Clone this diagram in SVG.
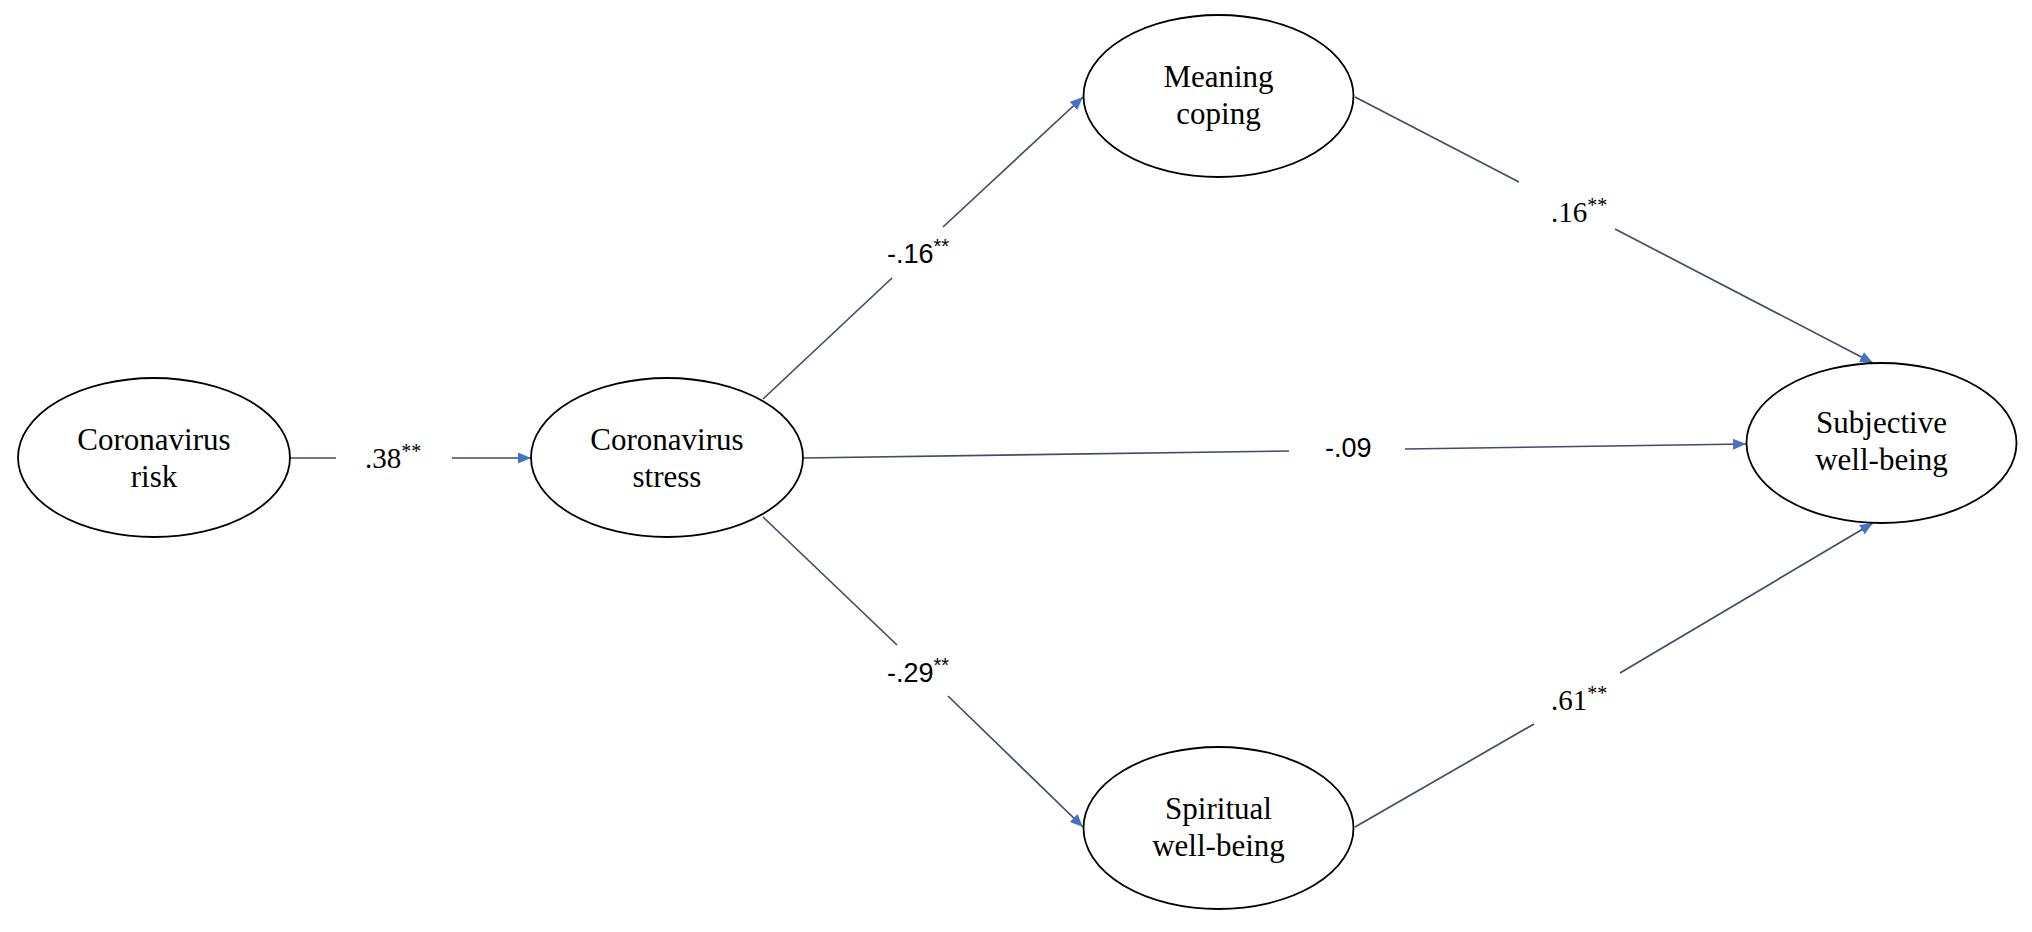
<svg xmlns="http://www.w3.org/2000/svg" width="2032" height="932" viewBox="0 0 2032 932">
  <defs>
    <marker id="arr" markerUnits="userSpaceOnUse" markerWidth="14" markerHeight="12" refX="13" refY="5.5" orient="auto">
      <path d="M0,0 L13,5.5 L0,11 z" fill="#4472C4"/>
    </marker>
  </defs>
  <style>
    .node ellipse { fill: #ffffff; stroke: #000000; stroke-width: 1.8; }
    .node text { font-family: "Liberation Serif", "Times New Roman", serif; font-size: 31px; fill: #000000; text-anchor: middle; }
    .conn line { stroke: #3f4d68; stroke-width: 1.7; fill: none; }
    .conn line.arrow { marker-end: url(#arr); }
    .lbl { fill: #000000; }
    .sans { font-family: "Liberation Sans", Arial, sans-serif; font-size: 27px; }
    .serif { font-family: "Liberation Serif", "Times New Roman", serif; font-size: 29px; }
    .sup { font-size: 20px; }
  </style>
  <rect x="0" y="0" width="2032" height="932" fill="#ffffff"/>

  <g id="connectors" class="conn">
    <!-- risk -> stress -->
    <line x1="290" y1="458" x2="336" y2="458"/>
    <line class="arrow" x1="452" y1="458" x2="531" y2="458"/>
    <!-- stress -> meaning -->
    <line x1="763" y1="399" x2="892" y2="278"/>
    <line class="arrow" x1="943" y1="227" x2="1083" y2="97"/>
    <!-- stress -> spiritual -->
    <line x1="763" y1="517" x2="897" y2="645"/>
    <line class="arrow" x1="948" y1="696" x2="1083" y2="827"/>
    <!-- stress -> subjective -->
    <line x1="803" y1="458" x2="1289" y2="451"/>
    <line class="arrow" x1="1405" y1="449" x2="1746" y2="444"/>
    <!-- meaning -> subjective -->
    <line x1="1355" y1="97" x2="1519" y2="182"/>
    <line class="arrow" x1="1615" y1="229" x2="1873" y2="363"/>
    <!-- spiritual -> subjective -->
    <line x1="1355" y1="827" x2="1534" y2="724"/>
    <line class="arrow" x1="1620" y1="673" x2="1873" y2="523"/>
  </g>

  <g id="labels" class="lbl">
    <text class="serif" x="365" y="468">.38<tspan class="sup" dy="-10">**</tspan></text>
    <text class="sans" x="887" y="263">-.16<tspan class="sup" dy="-10">**</tspan></text>
    <text class="sans" x="887" y="682">-.29<tspan class="sup" dy="-10">**</tspan></text>
    <text class="sans" x="1325" y="457">-.09</text>
    <text class="serif" x="1551" y="222">.16<tspan class="sup" dy="-10">**</tspan></text>
    <text class="serif" x="1551" y="710">.61<tspan class="sup" dy="-10">**</tspan></text>
  </g>

  <g id="node-risk" class="node">
    <ellipse cx="154" cy="457.5" rx="136" ry="79.5"/>
    <text x="154" y="450">Coronavirus</text>
    <text x="154" y="487">risk</text>
  </g>
  <g id="node-stress" class="node">
    <ellipse cx="667" cy="457.5" rx="136" ry="79.5"/>
    <text x="667" y="450">Coronavirus</text>
    <text x="667" y="487">stress</text>
  </g>
  <g id="node-meaning" class="node">
    <ellipse cx="1218.5" cy="96" rx="135" ry="81"/>
    <text x="1218.5" y="87">Meaning</text>
    <text x="1218.5" y="124">coping</text>
  </g>
  <g id="node-spiritual" class="node">
    <ellipse cx="1218.5" cy="828" rx="135" ry="81"/>
    <text x="1218.5" y="819">Spiritual</text>
    <text x="1218.5" y="856">well-being</text>
  </g>
  <g id="node-subjective" class="node">
    <ellipse cx="1881.5" cy="443" rx="135" ry="80"/>
    <text x="1881.5" y="433">Subjective</text>
    <text x="1881.5" y="470">well-being</text>
  </g>
</svg>
